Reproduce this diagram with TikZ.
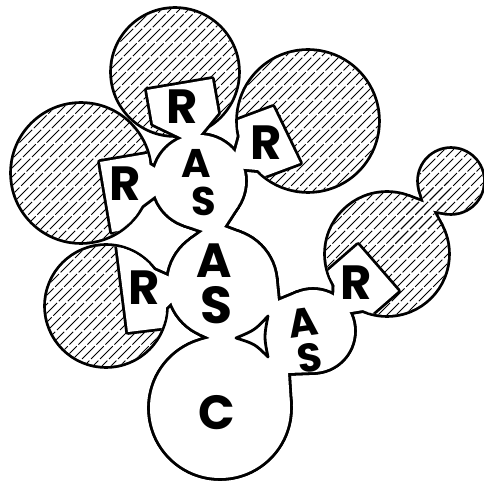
\documentclass[tikz,border=0pt]{standalone}
\usepackage{fontspec}
\newfontfamily\labfont{Poppins}
\usetikzlibrary{calc}
\newcommand\hshapes[1]{%
  \path[#1] (H1) circle[radius=63];
  \path[#1] (H2) circle[radius=70];
  \path[#1] (H3) circle[radius=69];
  \path[#1] (H4) circle[radius=60];
  \path[#1] (H5) circle[radius=61];
  \path[#1] (H6) circle[radius=32];
  \path[#1] (H5) -- (408.1,196.8) -- (424,202.6) -- (420.3,190) -- (H6) -- (446,212.6) -- (433,210.6) -- (440.8,225.3) -- cycle;
}
\newcommand\wshapes[1]{%
  \path[#1] (U) circle[radius=46];
  \path[#1] (M) circle[radius=54];
  \path[#1] (S) circle[radius=41];
  \path[#1] (C) circle[radius=70];
  % neck U-M
  \path[#1] (U) -- (184,224.5) -- (203,231) -- (190.1,240.4) -- (M) -- (241.1,233.5) -- (224,227) -- (237.6,206) -- cycle;
  % junction M-S-C
  \path[#1] (M) -- (275.7,278.6) -- (278,301) -- (297.5,293) -- (S) -- (314.6,372) -- (288,373) -- (289.9,403.8) -- (C) -- (200.5,340.8) -- (210,338) -- (199.2,332.9) -- cycle;
  % arm 1
  \path[#1] (147,90) -- (212,79) -- (218,113) -- (153,124) -- cycle;
  \path[#1] (153,124) -- (182,100) -- (218,113) -- ($(U)+(-88.8:46)$) -- (U) -- ($(U)+(-111.1:46)$) -- cycle;
  % arm 2
  \begin{scope}\clip (H2) circle[radius=70];
    \path[#1] (273,107) -- (300,163) -- (234.4,187.4) -- (207.4,131.4) -- cycle;
  \end{scope}
  \path[#1] (245,117.5) -- ($(U)+(-38:46)$) -- (U) -- ($(U)+(-15.5:46)$) -- (276.6,171.7) -- cycle;
  % arm 3
  \begin{scope}\clip (H3) circle[radius=69];
    \path[#1] (100,162) -- (170,150) -- (182,220) -- (112,232) -- cycle;
  \end{scope}
  \path[#1] (134.5,156.1) -- ($(U)+(-163.5:46)$) -- (U) -- ($(U)+(161.6:46)$) -- (136,210) -- cycle;
  % arm 4
  \begin{scope}\clip (H4) circle[radius=60];
    \path[#1] (115,230) -- (128,332) -- (187.6,324.7) -- (174.6,222.7) -- cycle;
  \end{scope}
  \path[#1] (145,266) -- ($(M)+(188:54)$) -- (M) -- ($(M)+(160:54)$) -- (155,318) -- cycle;
  % arm 5
  \begin{scope}\clip (H5) circle[radius=61];
    \path[#1] (358,245) -- (398,291) -- (352.8,330.4) -- (312.8,284.4) -- cycle;
  \end{scope}
  \path[#1] (335.4,264.7) -- ($(S)+(-59:41)$) -- (S) -- ($(S)+(-27.2:41)$) -- (379,307.4) -- cycle;
}
\newcommand\hatchlines{\foreach \c in {0,9,...,990} {\draw[hatchl] (\c,0) -- (\c-500,500);}}
\begin{document}
\begin{tikzpicture}[x=0.5pt,y=-0.5pt,line join=round,
  lab/.style={font=\labfont\bfseries\fontsize{24pt}{24pt}\selectfont, inner sep=0pt},
  labs/.style={font=\labfont\bfseries\fontsize{20pt}{20pt}\selectfont, inner sep=0pt},
  outl/.style={draw=black, line width=2.8pt},
  hatchl/.style={line width=0.5pt, dash pattern=on 9pt off 1.2pt}]
\useasboundingbox (0,0) rectangle (484,482);
\fill[white] (0,0) rectangle (484,482);
\coordinate (U) at (199,181);
\coordinate (M) at (222,284);
\coordinate (S) at (313,331);
\coordinate (C) at (220,408);
\coordinate (H1) at (175,72);
\coordinate (H2) at (308,121);
\coordinate (H3) at (81,173);
\coordinate (H4) at (106,306);
\coordinate (H5) at (387,254);
\coordinate (H6) at (451,181);
% union outline
\hshapes{outl}
\wshapes{outl}
\hshapes{fill=white}
\wshapes{fill=white}
% hatching
\begin{scope}\clip (H1) circle[radius=63]; \hatchlines \end{scope}
\begin{scope}\clip (H2) circle[radius=70]; \hatchlines \end{scope}
\begin{scope}\clip (H3) circle[radius=69]; \hatchlines \end{scope}
\begin{scope}\clip (H4) circle[radius=60]; \hatchlines \end{scope}
\begin{scope}\clip (H5) circle[radius=61]; \hatchlines \end{scope}
\begin{scope}\clip (H6) circle[radius=32]; \hatchlines \end{scope}
\begin{scope}\clip (H5) -- (408.1,196.8) -- (424,202.6) -- (420.3,190) -- (H6) -- (446,212.6) -- (433,210.6) -- (440.8,225.3) -- cycle; \hatchlines \end{scope}
% white regions over hatching
\wshapes{outl}
\wshapes{fill=white}
% hole between M, C and S
\draw[line width=1.4pt, fill=white] (268,316) .. controls (255,330) .. (236,338) .. controls (255,344) .. (268,357) .. controls (264,337) .. cycle;
% labels
\node[lab] (r1) at (182,107) {R};
\node[lab] (r2) at (266,143) {R};
\node[lab] (r3) at (125,184) {R};
\node[lab] (r4) at (144,288) {R};
\node[lab] (r5) at (356,283) {R};
\node[labs] (ua) at (196,163) {A};
\node[labs] (us) at (204,201) {S};
\node[lab] (ma) at (214,261) {A};
\node[lab, font=\labfont\bfseries\fontsize{26pt}{26pt}\selectfont] (ms) at (216,305) {S};
\node[labs,rotate=8] (sa) at (303,323) {A};
\node[labs,rotate=8] (ss) at (310,358) {S};
\node[lab] (cc) at (217,413) {C};
\end{tikzpicture}
\end{document}
